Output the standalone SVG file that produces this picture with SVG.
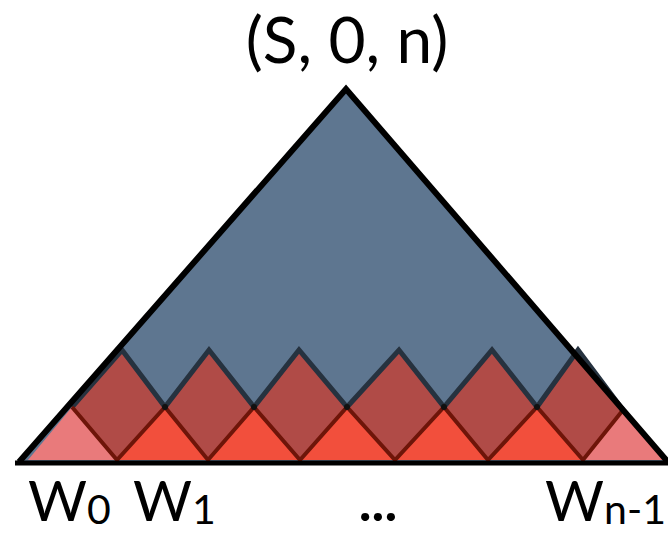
<svg xmlns="http://www.w3.org/2000/svg" width="668" height="534" viewBox="0 0 668 534">
<style>
.t{font-family:Lato,"Open Sans","Liberation Sans",sans-serif;fill:#000}
.w{font-size:57px}
.sub{font-size:41px}
.dia{fill:#b04b47}
.bright{fill:#f24f3c}
.pink{fill:#e97a7b}
.up{fill:none;stroke:#26323f;stroke-width:5;stroke-linejoin:miter}
.lo{fill:none;stroke:#6e1509;stroke-width:4}
.dot{fill:#111}
</style>
<rect width="668" height="534" fill="#fff"/>
<g id="big-triangle">
<polygon points="19,462 346,89 668,462" fill="#5e7690"/>
</g>
<g id="small-triangles">
<polygon class="dia" points="122,350 165,407 117,460 72,407"/>
<polygon class="dia" points="209,350 254,407 208,460 165,407"/>
<polygon class="dia" points="299,350 347,407 300,460 254,407"/>
<polygon class="dia" points="399,350 444,407 395,460 347,407"/>
<polygon class="dia" points="492,350 537,407 488,460 444,407"/>
<polygon class="dia" points="578,350 623,410 583,460 537,407"/>
<polygon class="pink" points="72,407 28,460 117,460"/>
<polygon class="bright" points="165,407 117,460 208,460"/>
<polygon class="bright" points="254,407 208,460 300,460"/>
<polygon class="bright" points="347,407 300,460 395,460"/>
<polygon class="bright" points="444,407 395,460 488,460"/>
<polygon class="bright" points="537,407 488,460 583,460"/>
<polygon class="pink" points="623,410 583,460 664,460"/>
</g>
<g id="edges">
<polyline class="up" points="72,407 122,350 165,407"/>
<polyline class="up" points="165,407 209,350 254,407"/>
<polyline class="up" points="254,407 299,350 347,407"/>
<polyline class="up" points="347,407 399,350 444,407"/>
<polyline class="up" points="444,407 492,350 537,407"/>
<polyline class="up" points="537,407 578,350 623,410"/>
<polyline class="lo" points="72,407 117,460 165,407 208,460 254,407 300,460 347,407 395,460 444,407 488,460 537,407 583,460 623,410"/>
<circle class="dot" cx="165" cy="407" r="3"/>
<circle class="dot" cx="254" cy="407" r="3"/>
<circle class="dot" cx="347" cy="407" r="3"/>
<circle class="dot" cx="444" cy="407" r="3"/>
<circle class="dot" cx="537" cy="407" r="3"/>
</g>
<g id="big-outline">
<polyline points="19,462 346,89 668,462" fill="none" stroke="#000" stroke-width="6" stroke-linejoin="miter"/>
<line x1="15" y1="463" x2="668" y2="463" stroke="#000" stroke-width="5"/>
</g>
<g id="labels">
<text class="t" x="347" y="63" font-size="64" text-anchor="middle">(S, 0, n)</text>
<text class="t w" x="28" y="521">W<tspan class="sub" dy="3">0</tspan></text>
<text class="t w" x="133" y="521">W<tspan class="sub" dy="3">1</tspan></text>
<text class="t" x="378" y="521" font-size="54" font-weight="bold" text-anchor="middle">...</text>
<text class="t w" x="545" y="521">W<tspan class="sub" dy="3">n-1</tspan></text>
</g>
</svg>
